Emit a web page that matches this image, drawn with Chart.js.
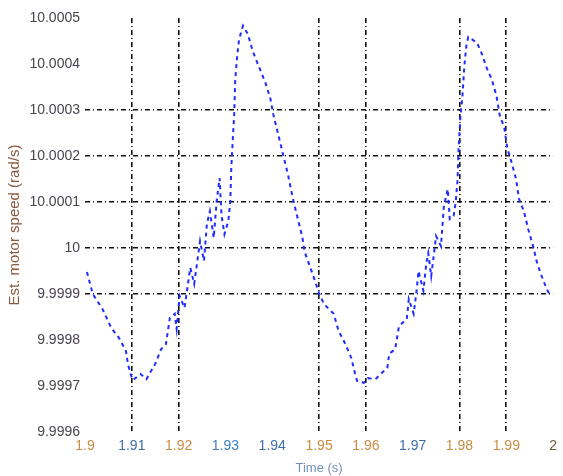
<!DOCTYPE html>
<html>
<head>
<meta charset="utf-8">
<script src="https://cdn.jsdelivr.net/npm/chart.js@4"></script>
<style>
  html, body { margin: 0; padding: 0; background: #fff; }
  #wrap { width: 563px; height: 476px; position: relative; }
</style>
</head>
<body>
<div id="wrap"><canvas id="speedChart"></canvas></div>
<script>
// time in seconds
const timeS = [
  1.90042, 1.90167, 1.90375, 1.90563, 1.90729, 1.90875, 1.90917, 1.90979, 1.91021, 1.91188,
  1.91313, 1.915, 1.91625, 1.91729, 1.91813, 1.91917, 1.91958, 1.92021, 1.92125, 1.9225,
  1.92333, 1.92458, 1.92542, 1.92604, 1.92667, 1.9275, 1.92813, 1.92875, 1.92917, 1.92979,
  1.93063, 1.93104, 1.93125, 1.93167, 1.93188, 1.93208, 1.9325, 1.93292, 1.93375, 1.93479,
  1.93583, 1.93708, 1.93854, 1.93958, 1.94021, 1.94125, 1.94229, 1.94333, 1.94438, 1.94542,
  1.94646, 1.94688, 1.94854, 1.95, 1.95104, 1.95313, 1.95417, 1.95563, 1.95688, 1.95771,
  1.95813, 1.95958, 1.96042, 1.96208, 1.96313, 1.96458, 1.965, 1.96625, 1.96708, 1.96875,
  1.96917, 1.97021, 1.97083, 1.97125, 1.97229, 1.97292, 1.97333, 1.97396, 1.975, 1.97604,
  1.97667, 1.9775, 1.97792, 1.97875, 1.97917, 1.97958, 1.97979, 1.98021, 1.98063, 1.98104,
  1.98146, 1.98188, 1.98375, 1.98479, 1.98583, 1.98688, 1.98792, 1.98854, 1.98958, 1.99021,
  1.99104, 1.99208, 1.99271, 1.99375, 1.99479, 1.99583, 1.99646, 1.99729, 1.99854, 1.99938
];

// estimated motor speed in rad/s
const speed = [
  9.999948, 9.9999, 9.999867, 9.999826, 9.999804, 9.999776, 9.999748, 9.999724, 9.999713, 9.999726,
  9.999715, 9.999748, 9.99978, 9.999791, 9.999848, 9.999857, 9.999824, 9.999896, 9.99987, 9.999957,
  9.999922, 10.000015, 9.999972, 10.000052, 10.00008, 10.000022, 10.000102, 10.000152, 10.00007, 10.00003,
  10.000059, 10.000102, 10.000174, 10.000254, 10.000291, 10.000363, 10.000417, 10.000454, 10.000483, 10.000465,
  10.000428, 10.000396, 10.000359, 10.000326, 10.000291, 10.000248, 10.000204, 10.000161, 10.000109, 10.000065,
  10.000022, 9.999993, 9.999946, 9.999902, 9.999878, 9.999857, 9.99982, 9.999791, 9.999761, 9.999726,
  9.999711, 9.999707, 9.999717, 9.999715, 9.999726, 9.999739, 9.99977, 9.99978, 9.99983, 9.999846,
  9.999889, 9.999857, 9.999907, 9.99995, 9.999907, 9.999967, 9.999989, 9.999939, 10.000026, 10.000004,
  10.000091, 10.000128, 10.000063, 10.00007, 10.000098, 10.000146, 10.000211, 10.000287, 10.00033, 10.000396,
  10.000439, 10.000459, 10.000446, 10.000422, 10.000391, 10.000367, 10.00033, 10.000291, 10.000261, 10.000217,
  10.000189, 10.00015, 10.000107, 10.00008, 10.000037, 10.0, 9.999972, 9.999946, 9.999913, 9.999896
];

const xTicks = [1.9, 1.91, 1.92, 1.93, 1.94, 1.95, 1.96, 1.97, 1.98, 1.99, 2];
const yTicks = [9.9996, 9.9997, 9.9998, 9.9999, 10, 10.0001, 10.0002, 10.0003, 10.0004, 10.0005];

// only some grid lines survived in the picture
const xGridShown = [1.91, 1.92, 1.95, 1.96, 1.98, 1.99];
const yGridShown = [9.9999, 10, 10.0001, 10.0002, 10.0003];

const xTickColors = ["#c98c45", "#3f6ea8", "#c98c45", "#3f7fc0", "#3f6ea8", "#c98c45",
                     "#c98c45", "#3f6ea8", "#c98c45", "#c98c45", "#6a5a40"];

const same = (a, b) => Math.abs(a - b) < 1e-7;
const dashDot = [5, 3, 1, 3];

const points = timeS.map((t, i) => ({ x: t, y: speed[i] }));

new Chart(document.getElementById("speedChart"), {
  type: "line",
  data: {
    datasets: [{
      data: points,
      borderColor: "#1f2cff",
      borderWidth: 2,
      borderDash: [4, 4],
      pointRadius: 0,
      tension: 0,
      fill: false
    }]
  },
  options: {
    responsive: true,
    maintainAspectRatio: false,
    animation: false,
    layout: { padding: { top: 18, right: 0, left: 0, bottom: 0 }, autoPadding: false },
    plugins: { legend: { display: false }, tooltip: { enabled: false } },
    scales: {
      x: {
        type: "linear",
        min: 1.9,
        max: 2,
        afterBuildTicks: (axis) => { axis.ticks = xTicks.map(v => ({ value: v })); },
        afterFit: (axis) => { axis.height = 44; },
        border: { display: false, dash: dashDot },
        grid: {
          drawTicks: false,
          lineWidth: 1.6,
          color: (ctx) => xGridShown.some(v => same(v, ctx.tick.value)) ? "#111" : "rgba(0,0,0,0)"
        },
        ticks: {
          padding: 6,
          maxRotation: 0,
          autoSkip: false,
          font: { family: "Liberation Sans", size: 14 },
          color: (ctx) => xTickColors[ctx.index] || "#555",
          callback: (v) => String(Number(v.toFixed(2)))
        },
        title: {
          display: true,
          text: "Time (s)",
          color: "#6f8fb5",
          font: { family: "Liberation Sans", size: 13 },
          padding: { top: 1, bottom: 0 }
        }
      },
      y: {
        type: "linear",
        min: 9.9996,
        max: 10.0005,
        afterBuildTicks: (axis) => { axis.ticks = yTicks.map(v => ({ value: v })); },
        afterFit: (axis) => { axis.width = 85; },
        border: { display: false, dash: dashDot },
        grid: {
          drawTicks: false,
          lineWidth: 1.6,
          color: (ctx) => yGridShown.some(v => same(v, ctx.tick.value)) ? "#111" : "rgba(0,0,0,0)"
        },
        ticks: {
          padding: 5,
          autoSkip: false,
          font: { family: "Liberation Sans", size: 14 },
          color: "#4a4450",
          callback: (v) => String(Number(v.toFixed(4)))
        },
        title: {
          display: true,
          text: "Est. motor speed (rad/s)",
          color: "#8a5a3c",
          font: { family: "Liberation Sans", size: 15 },
          padding: { top: 6, bottom: 0 }
        }
      }
    }
  }
});
</script>
</body>
</html>
